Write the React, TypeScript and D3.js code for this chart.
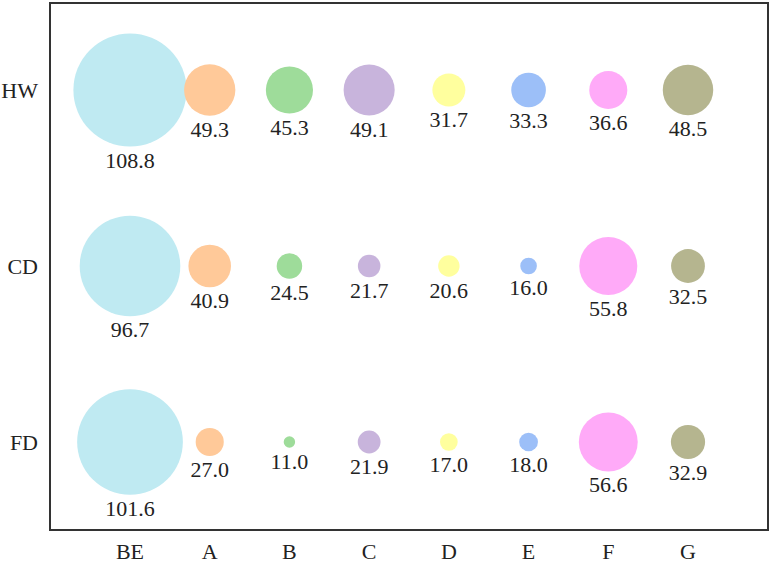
import React from "react";
import * as d3 from "d3";

const categories = ["BE", "A", "B", "C", "D", "E", "F", "G"];
const rows = ["HW", "CD", "FD"];
const hwValues = [108.8, 49.3, 45.3, 49.1, 31.7, 33.3, 36.6, 48.5];
const cdValues = [96.7, 40.9, 24.5, 21.7, 20.6, 16.0, 55.8, 32.5];
const fdValues = [101.6, 27.0, 11.0, 21.9, 17.0, 18.0, 56.6, 32.9];
const colors = ["#bfeaf2", "#ffc999", "#9edc9a", "#c8b4dc", "#ffff9e", "#9cbff8", "#ffaaf8", "#b5b58f"];

const W = 771;
const H = 564;
const frame = { left: 50, top: 3, right: 768, bottom: 530 };
const FONT = "'Liberation Serif', 'Times New Roman', serif";

export default function App() {
  const x = d3.scalePoint<string>().domain(categories).range([130, 688]);
  const y = d3.scalePoint<string>().domain(rows).range([90, 442]);
  const r = d3.scaleLinear().domain([0, 108.8]).range([0, 56.6]);
  const fmt = d3.format(".1f");
  const series = [hwValues, cdValues, fdValues];

  return (
    <svg width={W} height={H} style={{ position: "absolute", left: 0, top: 0, background: "#fff" }}>
      <rect x={frame.left} y={frame.top} width={frame.right - frame.left} height={frame.bottom - frame.top}
        fill="none" stroke="#333" strokeWidth={2} />
      {rows.map((row, ri) => (
        <g key={row}>
          <text x={38} y={(y(row) as number) + 7.5} textAnchor="end" fontFamily={FONT} fontSize={22} fill="#222">{row}</text>
          {categories.map((c, ci) => {
            const v = series[ri][ci];
            const cx = x(c) as number;
            const cy = y(row) as number;
            const rad = r(v);
            return (
              <g key={c}>
                <circle cx={cx} cy={cy} r={rad} fill={colors[ci]} />
                <text x={cx} y={cy + rad + 21} textAnchor="middle" fontFamily={FONT} fontSize={22} fill="#222">{fmt(v)}</text>
              </g>
            );
          })}
        </g>
      ))}
      {categories.map((c) => (
        <text key={c} x={x(c) as number} y={559} textAnchor="middle" fontFamily={FONT} fontSize={22} fill="#222">{c}</text>
      ))}
    </svg>
  );
}
